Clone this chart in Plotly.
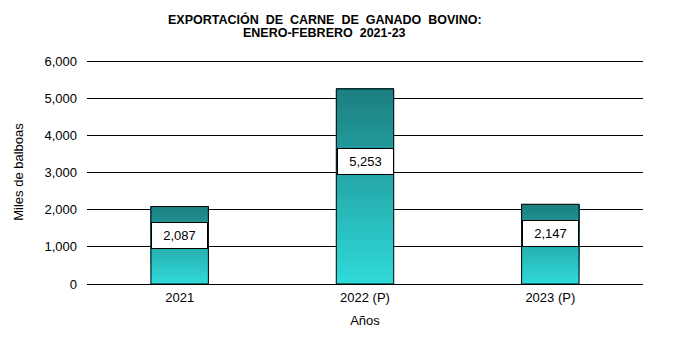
import plotly.graph_objects as go

categories = ["2021", "2022 (P)", "2023 (P)"]
values = [2087, 5253, 2147]
y_ticks = [0, 1000, 2000, 3000, 4000, 5000, 6000]

N = 60
bottom_rgb = (48, 218, 218)
top_rgb = (28, 126, 128)
FONT = "Liberation Sans, Arial"

fig = go.Figure()
for i in range(N):
    t = (i + 0.5) / N
    c = tuple(round(bottom_rgb[k] + (top_rgb[k] - bottom_rgb[k]) * t) for k in range(3))
    fig.add_trace(go.Bar(
        x=categories,
        y=[v * (N - i) / N for v in values],
        base=[v * i / N for v in values],
        marker=dict(color="rgb(%d,%d,%d)" % c, line=dict(width=0)),
        hoverinfo="skip",
        showlegend=False,
    ))

fig.add_trace(go.Bar(
    x=categories, y=values,
    marker=dict(color="rgba(0,0,0,0)", line=dict(color="black", width=1)),
    showlegend=False,
))

for idx, v in enumerate(values):
    fig.add_annotation(
        x=idx, y=v * 0.63, text=f"{v:,}", showarrow=False,
        bgcolor="white", bordercolor="black", borderwidth=1,
        width=51, height=21, borderpad=2,
        font=dict(family=FONT, size=13, color="black"),
    )

title_lines = ["EXPORTACIÓN  DE  CARNE  DE  GANADO  BOVINO:", "ENERO-FEBRERO  2021-23"]
for k, line in enumerate(title_lines):
    fig.add_annotation(
        text="<b>" + line + "</b>",
        xref="paper", yref="paper", x=0.428, y=1.0, yshift=41 - 14 * k,
        xanchor="center", yanchor="middle", showarrow=False,
        font=dict(size=12.5, family=FONT, color="black"),
    )

fig.update_layout(
    width=683, height=358,
    margin=dict(l=87, r=40, t=60, b=74),
    paper_bgcolor="white", plot_bgcolor="white",
    barmode="overlay", bargap=0.69,
    font=dict(family=FONT, size=13, color="black"),
    xaxis=dict(
        type="category", range=[-0.5, 2.5],
        title=dict(text="Años", font=dict(size=13), standoff=11),
        showgrid=False, showline=False, ticks="", ticklen=0, tickcolor="white",
        ticklabelstandoff=4, tickfont=dict(size=13),
    ),
    yaxis=dict(
        title=dict(text="Miles de balboas", font=dict(size=13), standoff=17),
        range=[0, 6030], tickvals=y_ticks, tickformat=",",
        showgrid=True, gridcolor="black", gridwidth=1,
        zeroline=True, zerolinecolor="black", zerolinewidth=1,
        showline=False, ticks="", ticklen=0, tickcolor="white",
        ticklabelstandoff=9, tickfont=dict(size=13),
    ),
)

fig.write_html("out.html")
